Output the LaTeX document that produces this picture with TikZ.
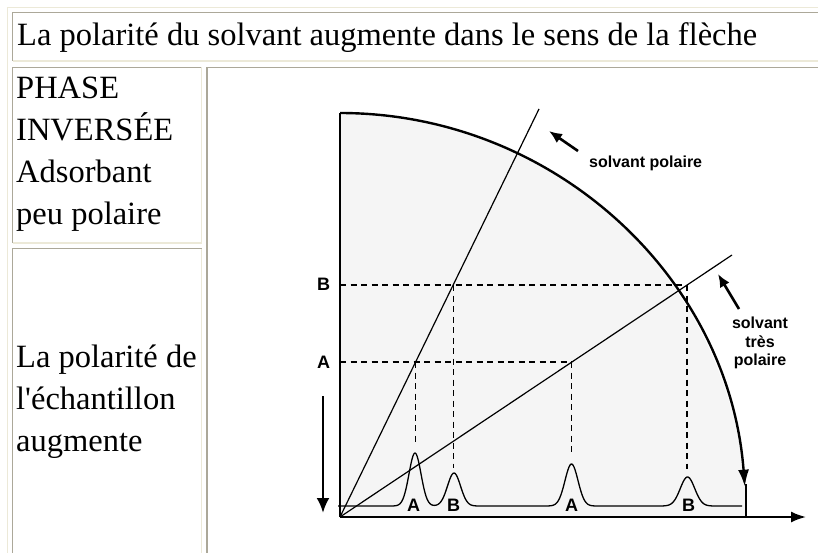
\documentclass[tikz,border=0pt]{standalone}
\usepackage{fontspec}
\setmainfont{Liberation Serif}
\newfontfamily\diagfont{Liberation Sans}
\usetikzlibrary{arrows.meta}
\definecolor{cellDark}{HTML}{ACA899}
\definecolor{cellLight}{HTML}{ECE9D8}
\definecolor{discFill}{HTML}{F5F5F5}
\begin{document}
\begin{tikzpicture}[x=1pt,y=-1pt,
  darkline/.style={draw=cellDark, line width=1.6pt},
  lightline/.style={draw=cellLight, line width=1.6pt},
  celltext/.style={anchor=base west, inner sep=0pt, font=\fontsize{32.5}{38}\selectfont},
  lab/.style={inner sep=0pt, font=\diagfont\bfseries\fontsize{18}{20}\selectfont},
  note/.style={anchor=base, inner sep=0pt, font=\diagfont\bfseries\fontsize{16}{19}\selectfont},
  axisline/.style={line width=2pt},
  arcline/.style={line width=2.4pt},
  ray/.style={line width=1.2pt},
  guide/.style={line width=1.8pt, dash pattern=on 6pt off 4.5pt},
  peak/.style={line width=1.3pt, line join=round},
  sarrow/.style={line width=2.6pt, -{Latex[length=13pt,width=11pt]}},
]
\useasboundingbox (0,0) rectangle (818,553);
\fill[white] (0,0) rectangle (818,553);
\clip (0,0) rectangle (818,553);

% ---- table borders ----
\draw[lightline] (7.5,560) -- (7.5,7.5) -- (830,7.5);
\draw[darkline] (12.5,61) -- (12.5,12.5) -- (830,12.5);
\draw[lightline] (12.5,61) -- (830,61);
\draw[darkline] (12.5,243) -- (12.5,67.5) -- (202,67.5);
\draw[lightline] (12.5,243) -- (201.5,243) -- (201.5,67.5);
\draw[darkline] (12.5,560) -- (12.5,248.5) -- (202,248.5);
\draw[lightline] (201.5,248.5) -- (201.5,560);
\draw[darkline] (207,560) -- (207,67.5) -- (830,67.5);

% ---- table texts ----
\node[celltext] (title) at (17,46) {La polarité du solvant augmente dans le sens de la flèche};
\node[celltext] (t1) at (16,99) {PHASE};
\node[celltext] (t2) at (16,141) {INVERSÉE};
\node[celltext] (t3) at (16,183) {Adsorbant};
\node[celltext] (t4) at (16,225) {peu polaire};
\node[celltext] (s1) at (16,367) {La polarité de};
\node[celltext] (s2) at (16,409) {l\textquotesingle échantillon};
\node[celltext] (s3) at (16,451) {augmente};

% ---- diagram coordinates ----
\coordinate (O) at (340,517);
\coordinate (top) at (340,113);
\coordinate (xEnd) at (806,517);
\coordinate (rayOneEnd) at (539,109);
\coordinate (rayTwoEnd) at (732,255);
\coordinate (yB) at (340,285);
\coordinate (yA) at (340,362);
\coordinate (iA1) at (415.5,362);
\coordinate (iB1) at (453.5,285);
\coordinate (iA2) at (571.5,362);
\coordinate (iB2) at (687,285);

% quarter disc
\fill[discFill] (O) -- (top) arc[start angle=-90, end angle=-4.3, x radius=406, y radius=404] -- (745,517) -- cycle;

% dashed guides
\draw[guide] (yB) -- (iB2);
\draw[guide] (yA) -- (iA2);
\draw[guide] (iA1) -- (415.5,444);
\draw[guide] (iB1) -- (453.5,468);
\draw[guide] (iA2) -- (571.5,452);
\draw[guide] (iB2) -- (687,469);

% rays from origin
\draw[ray] (O) -- (rayOneEnd);
\draw[ray] (O) -- (rayTwoEnd);

% chromatogram
\draw[peak] (338,506) -- (390,506)
  -- plot[domain=390:480, samples=91] (\x,{506-53*exp(-0.5*((\x-415)/6)*((\x-415)/6))-33*exp(-0.5*((\x-454)/6.5)*((\x-454)/6.5))})
  -- (545,506)
  -- plot[domain=545:597, samples=53] (\x,{506-42*exp(-0.5*((\x-571.5)/6.5)*((\x-571.5)/6.5))})
  -- (660,506)
  -- plot[domain=660:714, samples=55] (\x,{506-29*exp(-0.5*((\x-687.5)/7.2)*((\x-687.5)/7.2))})
  -- (742,506);

% axes
\draw[axisline] (top) -- (O);
\draw[axisline, -{Latex[length=15pt,width=11pt]}] (O) -- (xEnd);
\draw[arcline, -{Latex[length=17pt,width=11pt]}] (top) arc[start angle=-90, end angle=-4.3, x radius=406, y radius=404];
\draw[axisline] (745.5,484) -- (745.5,517);

% labels
\node[lab] (labB) at (323.5,284) {B};
\node[lab] (labA) at (323.5,362.5) {A};
\node[lab] (pA1) at (413.5,505.5) {A};
\node[lab] (pB1) at (453.5,505.5) {B};
\node[lab] (pA2) at (571.5,505.5) {A};
\node[lab] (pB2) at (688.5,505.5) {B};

% left down arrow
\coordinate (dTop) at (323,396);
\coordinate (dTip) at (323,513);
\draw[line width=2.6pt, -{Latex[length=15pt,width=13pt]}] (dTop) -- (dTip);

% solvent notes
\node[note, anchor=base west] (sp) at (589,168) {solvant polaire};
\coordinate (spTail) at (578,151);
\coordinate (spTip) at (549,131);
\draw[sarrow] (spTail) -- (spTip);

\node[note] (stp1) at (760,328.5) {solvant};
\node[note] (stp2) at (760,347) {très};
\node[note] (stp3) at (760,365.5) {polaire};
\coordinate (stTail) at (739,309);
\coordinate (stTip) at (718,274);
\draw[sarrow] (stTail) -- (stTip);
\end{tikzpicture}
\end{document}
